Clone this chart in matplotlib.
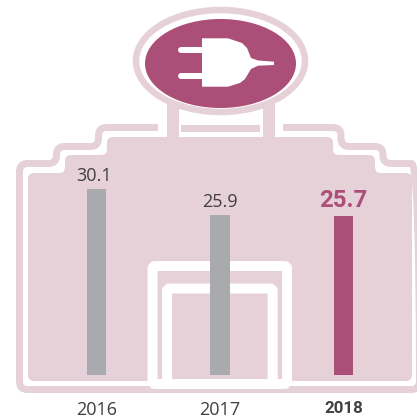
import matplotlib
matplotlib.use('Agg')
from matplotlib import pyplot as plt
from matplotlib.patches import Ellipse, FancyBboxPatch, PathPatch, Polygon
from matplotlib.path import Path

years = ['2016', '2017', '2018']
values = [30.1, 25.9, 25.7]

ROSA = '#E6D1D9'
MAGENTA = '#AB4E78'
CINZA = '#A8AAAD'
TEXTO = '#3F3F41'
px = 0.72  # 1 pixel em pontos (dpi 100)


def caminho_arredondado(pts, r):
    # linha poligonal com cantos arredondados
    verts = [pts[0]]
    codes = [Path.MOVETO]
    for i in range(1, len(pts) - 1):
        x0, y0 = pts[i - 1]
        x1, y1 = pts[i]
        x2, y2 = pts[i + 1]
        d1 = abs(x1 - x0) + abs(y1 - y0)
        d2 = abs(x2 - x1) + abs(y2 - y1)
        a = (x1 - (x1 - x0) / d1 * r, y1 - (y1 - y0) / d1 * r)
        b = (x1 + (x2 - x1) / d2 * r, y1 + (y2 - y1) / d2 * r)
        verts += [a, (x1, y1), b]
        codes += [Path.LINETO, Path.CURVE3, Path.CURVE3]
    verts.append(pts[-1])
    codes.append(Path.LINETO)
    return Path(verts, codes)


fig = plt.figure(figsize=(4.17, 4.19), dpi=100)

# Desenho de fundo em coordenadas de pixel
bg = fig.add_axes([0, 0, 1, 1])
bg.set_xlim(0, 417)
bg.set_ylim(419, 0)
bg.axis('off')

contorno = [(158, 127.5), (98.5, 127.5), (98.5, 146.5), (56.5, 146.5), (56.5, 163.5),
            (19.5, 163.5), (19.5, 389.5), (419.5, 389.5), (419.5, 163.5), (383, 163.5),
            (383, 146.5), (341, 146.5), (341, 127.5), (283, 127.5)]
bg.add_patch(PathPatch(caminho_arredondado(contorno, 8), fc='none', ec=ROSA, lw=7 * px,
                       capstyle='butt'))

interno = [(46, 381), (28, 381), (28, 173), (65, 173), (65, 155), (107, 155), (107, 137),
           (333, 137), (333, 155), (375, 155), (375, 173), (412, 173), (412, 381), (46, 381)]
bg.add_patch(PathPatch(caminho_arredondado(interno, 6), fc=ROSA, ec='none'))

# Hastes e anel em volta da tomada
bg.fill_between([167, 179], 104, 140, color=ROSA, lw=0)
bg.fill_between([263, 275], 104, 140, color=ROSA, lw=0)
bg.add_patch(FancyBboxPatch((181, 125), 79, 7, boxstyle='square,pad=0', fc=ROSA, ec='none'))
bg.add_patch(Ellipse((220.5, 61), 169, 102, fc='white', ec=ROSA, lw=6.5 * px))
bg.add_patch(Ellipse((220.5, 63.5), 151, 89, fc=MAGENTA, ec='none'))

# Tomada
tomada = [(202, 38.3), (228, 38.3), (242, 43), (247, 48), (251, 58), (258, 60.5), (274, 61.7),
          (274, 65), (258, 65.7), (251, 69), (245, 79), (240, 83), (228, 86.7), (202, 86.7)]
bg.add_patch(Polygon(tomada, closed=True, fc='white', ec='none'))
for y in [49.7, 75.7]:
    bg.plot([181, 203], [y, y], color='white', lw=6 * px, solid_capstyle='round')

# Molduras brancas
bg.add_patch(FancyBboxPatch((152.5, 266), 134.5, 118, boxstyle='round,pad=0,rounding_size=3',
                            fc='none', ec='white', lw=10 * px))
bg.add_patch(FancyBboxPatch((167, 288.5), 105.7, 95.5, boxstyle='round,pad=0,rounding_size=3',
                            fc='none', ec='white', lw=10 * px))

# Barras
ax = fig.add_axes([34.75 / 417, 44 / 419, 370.5 / 417, 375 / 419])
ax.patch.set_alpha(0)
cores = [CINZA, CINZA, MAGENTA]
ax.bar(range(3), values, width=0.154, color=cores)
ax.set_xlim(-0.5, 2.5)
ax.set_ylim(0, 375 / 6.18)
ax.set_yticks([])
ax.set_xticks(range(3), years, family='Open Sans', fontsize=13, color=TEXTO)
ax.tick_params(axis='x', length=0, pad=19)
ax.get_xticklabels()[2].set_family('Roboto')
ax.get_xticklabels()[2].set_fontweight('bold')
ax.get_xticklabels()[2].set_fontsize(12.2)
for s in ax.spines.values():
    s.set_visible(False)

desloc = [-2, -0.5, 0]
for i, v in enumerate(values):
    if i == 2:
        ax.annotate(f'{v}', (i, v), xytext=(0, 9 * px), textcoords='offset points', ha='center',
                    va='baseline', family='Roboto', fontweight='bold', fontsize=17.3, color=MAGENTA)
    else:
        ax.annotate(f'{v}', (i, v), xytext=(desloc[i] * px, 8 * px), textcoords='offset points',
                    ha='center', va='baseline', family='Open Sans', fontsize=13, color=TEXTO)

fig.savefig('out.png', dpi=100)
